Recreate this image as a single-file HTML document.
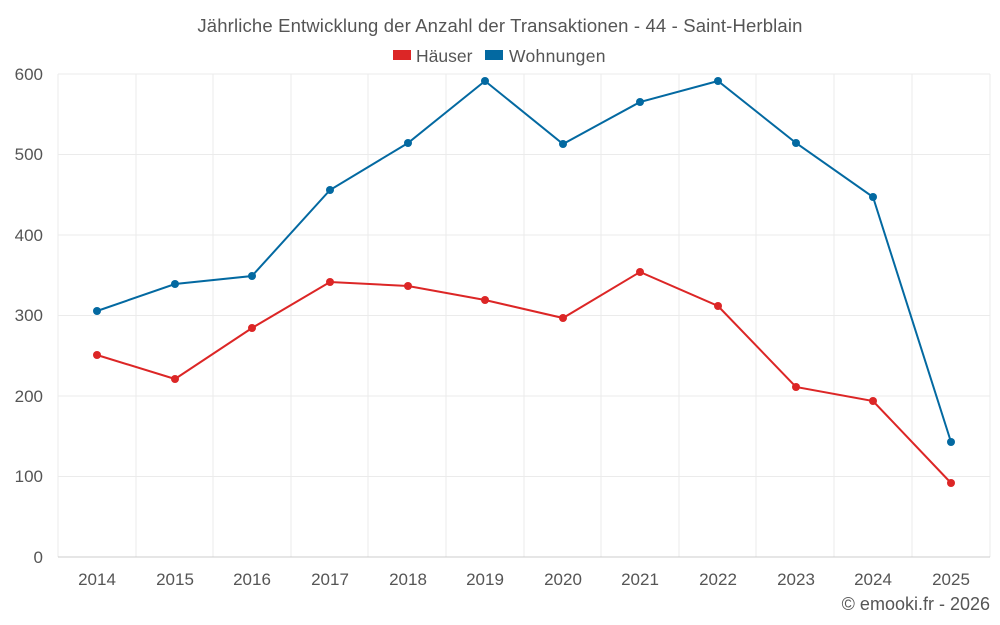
<!DOCTYPE html>
<html><head><meta charset="utf-8"><style>
body{margin:0;background:#fff;}
svg{display:block;font-family:"Liberation Sans",sans-serif;}
</style></head><body>
<svg width="1000" height="625" viewBox="0 0 1000 625" xmlns="http://www.w3.org/2000/svg">
<rect width="1000" height="625" fill="#fff"/>
<text x="500" y="32" text-anchor="middle" font-size="18.5" letter-spacing="0.15" fill="#555">Jährliche Entwicklung der Anzahl der Transaktionen - 44 - Saint-Herblain</text>
<rect x="393" y="50" width="18" height="10" fill="#dc2626"/>
<text x="416" y="62" font-size="17.5" fill="#555">Häuser</text>
<rect x="485" y="50" width="18" height="10" fill="#0369a1"/>
<text x="509" y="62" font-size="17.5" letter-spacing="0.3" fill="#555">Wohnungen</text>
<g stroke="#ebebeb" stroke-width="1">
<line x1="58" y1="74" x2="990" y2="74"/><line x1="58" y1="154.5" x2="990" y2="154.5"/>
<line x1="58" y1="235" x2="990" y2="235"/><line x1="58" y1="315.5" x2="990" y2="315.5"/>
<line x1="58" y1="396" x2="990" y2="396"/><line x1="58" y1="476.5" x2="990" y2="476.5"/>
<line x1="58" y1="74" x2="58" y2="557"/><line x1="136" y1="74" x2="136" y2="557"/>
<line x1="213" y1="74" x2="213" y2="557"/><line x1="291" y1="74" x2="291" y2="557"/>
<line x1="368" y1="74" x2="368" y2="557"/><line x1="446" y1="74" x2="446" y2="557"/>
<line x1="524" y1="74" x2="524" y2="557"/><line x1="601" y1="74" x2="601" y2="557"/>
<line x1="679" y1="74" x2="679" y2="557"/><line x1="756" y1="74" x2="756" y2="557"/>
<line x1="834" y1="74" x2="834" y2="557"/><line x1="912" y1="74" x2="912" y2="557"/>
<line x1="990" y1="74" x2="990" y2="557"/>
</g>
<line x1="58" y1="557" x2="990" y2="557" stroke="#ccc"/>
<g font-size="17" fill="#555" text-anchor="end">
<text x="43" y="80">600</text><text x="43" y="160">500</text><text x="43" y="241">400</text>
<text x="43" y="321">300</text><text x="43" y="402">200</text><text x="43" y="482">100</text><text x="43" y="563">0</text>
</g>
<g font-size="17" fill="#555" text-anchor="middle">
<text x="97" y="585">2014</text><text x="175" y="585">2015</text><text x="252" y="585">2016</text>
<text x="330" y="585">2017</text><text x="408" y="585">2018</text><text x="485" y="585">2019</text>
<text x="563" y="585">2020</text><text x="640" y="585">2021</text><text x="718" y="585">2022</text>
<text x="796" y="585">2023</text><text x="873" y="585">2024</text><text x="951" y="585">2025</text>
</g>
<text x="990" y="610" text-anchor="end" font-size="18" fill="#555">© emooki.fr - 2026</text>
<g fill="none" stroke-width="2">
<polyline stroke="#0369a1" points="97,311 175,284 252,276 330,190 408,143 485,81 563,144 640,102 718,81 796,143 873,197 951,442"/>
<polyline stroke="#dc2626" points="97,355 175,379 252,328 330,282 408,286 485,300 563,318 640,272 718,306 796,387 873,401 951,483"/>
</g>
<g fill="#0369a1">
<circle cx="97" cy="311" r="4"/><circle cx="175" cy="284" r="4"/><circle cx="252" cy="276" r="4"/><circle cx="330" cy="190" r="4"/><circle cx="408" cy="143" r="4"/><circle cx="485" cy="81" r="4"/><circle cx="563" cy="144" r="4"/><circle cx="640" cy="102" r="4"/><circle cx="718" cy="81" r="4"/><circle cx="796" cy="143" r="4"/><circle cx="873" cy="197" r="4"/><circle cx="951" cy="442" r="4"/>
</g>
<g fill="#dc2626">
<circle cx="97" cy="355" r="4"/><circle cx="175" cy="379" r="4"/><circle cx="252" cy="328" r="4"/><circle cx="330" cy="282" r="4"/><circle cx="408" cy="286" r="4"/><circle cx="485" cy="300" r="4"/><circle cx="563" cy="318" r="4"/><circle cx="640" cy="272" r="4"/><circle cx="718" cy="306" r="4"/><circle cx="796" cy="387" r="4"/><circle cx="873" cy="401" r="4"/><circle cx="951" cy="483" r="4"/>
</g>
</svg>
</body></html>
